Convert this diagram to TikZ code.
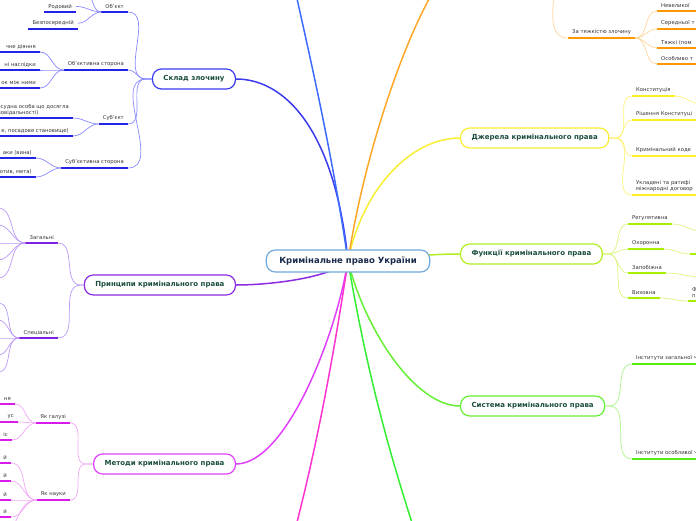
\documentclass[tikz,border=0pt]{standalone}
\usepackage{fontspec}
\setsansfont{DejaVu Sans}
\usetikzlibrary{calc,backgrounds}

\definecolor{centxt}{HTML}{1A2B4C}
\definecolor{toptxt}{HTML}{1B4D3E}
\definecolor{lbltxt}{HTML}{333333}
\definecolor{cenline}{HTML}{6FA8DC}
% branch colours: border / sub lines / underlines
\definecolor{bblue}{HTML}{3B3BF0}   \definecolor{lblue}{HTML}{8888FF}   \definecolor{ublue}{HTML}{2323E6}
\definecolor{bpurp}{HTML}{8B2BE2}   \definecolor{lpurp}{HTML}{BB99F5}   \definecolor{upurp}{HTML}{7C22E0}
\definecolor{bmag}{HTML}{E040FB}    \definecolor{lmag}{HTML}{F2A6F8}    \definecolor{umag}{HTML}{D81BE8}
\definecolor{byell}{HTML}{F7EE33}   \definecolor{lyell}{HTML}{FFF27A}   \definecolor{uyell}{HTML}{FFEE22}
\definecolor{blime}{HTML}{B2EE22}   \definecolor{llime}{HTML}{D8F580}   \definecolor{ulime}{HTML}{AAEE00}
\definecolor{bgrn}{HTML}{66F033}    \definecolor{lgrn}{HTML}{A8F58E}    \definecolor{ugrn}{HTML}{55EE11}
\definecolor{borng}{HTML}{FFA726}   \definecolor{lorng}{HTML}{FFD59A}   \definecolor{uorng}{HTML}{FF9800}
\definecolor{topblue}{HTML}{3D6BFF}
\definecolor{botmag}{HTML}{FF33D0}
\definecolor{botgrn}{HTML}{33EE33}

\begin{document}
\begin{tikzpicture}[x=1pt, y=-1pt,
      topic/.style = {draw=#1, line width=1.2pt, fill=white, rounded corners=9pt,
                      minimum height=20pt, inner xsep=11pt, text=toptxt,
                      font=\sffamily\bfseries\fontsize{7}{8}\selectfont},
        lbl/.style = {inner xsep=4pt, inner ysep=3pt, text=lbltxt, align=left,
                      font=\sffamily\fontsize{5.3}{6}\selectfont},
       rcut/.style = {lbl, text width=70pt},
         ul/.style = {draw=#1, line width=1.6pt},
        sub/.style = {draw=#1, line width=0.7pt},
       main/.style = {draw=#1, line width=1.5pt}
                    ]
    \useasboundingbox (0,0) rectangle (696,520);

    % centre and main topics
    \node[topic=cenline, text=centxt, minimum height=22pt, inner xsep=13pt,
          font=\sffamily\bfseries\fontsize{8.5}{10}\selectfont] (cen) at (348,261) {Кримінальне право України};

    \node[topic=bblue, anchor=east] (sklad) at (236,79)  {Склад злочину};
    \node[topic=bpurp, anchor=east] (pryn)  at (236,285) {Принципи кримінального права};
    \node[topic=bmag,  anchor=east] (metod) at (236,464) {Методи кримінального права};
    \node[topic=byell, anchor=west] (dzher) at (460,138) {Джерела кримінального права};
    \node[topic=blime, anchor=west] (funk)  at (460,254) {Функції кримінального права};
    \node[topic=bgrn,  anchor=west] (syst)  at (460,406) {Система кримінального права};

    % branches leaving the picture
    \coordinate (topb) at (296,-6);
    \coordinate (topo) at (432,-6);
    \coordinate (botg) at (413,526);
    \coordinate (botm) at (296,526);

    % Склад злочину
    \node[lbl, anchor=south east] (obj)    at (128,12)  {Об'єкт};
    \node[lbl, anchor=south east] (rod)    at (76,12)   {Родовий};
    \node[lbl, anchor=south east] (bezp)   at (78,29)   {Безпосередній};
    \coordinate (objtop) at (84,-8);
    \node[lbl, anchor=south east] (obst)   at (128,70)  {Об'єктивна сторона};
    \node[lbl, anchor=south east] (diyan)  at (40,52)   {чне діяння};
    \node[lbl, anchor=south east] (naslid) at (40,70)   {ні наслідки};
    \node[lbl, anchor=south east] (zvyaz)  at (40,88)   {ок між ними};
    \node[lbl, anchor=south east] (subj)   at (128,124) {Суб'єкт};
    \node[lbl, anchor=south east] (zagsub) at (73,118)  {осудна особа що досягла\\повідальності)};
    \node[lbl, anchor=south east] (spsub)  at (73,136)  {е, посадове становище)};
    \node[lbl, anchor=south east] (subst)  at (128,168) {Суб'єктивна сторона};
    \node[lbl, anchor=south east] (oblig)  at (36,158)  {аки (вина)};
    \node[lbl, anchor=south east] (fakult) at (36,177)  {отив, мета)};

    % Принципи
    \node[lbl, anchor=south east] (zagpr) at (58,243) {Загальні};
    \node[lbl, anchor=south east] (sppr)  at (58,338) {Спеціальні};
    \foreach \i/\y in {1/208,2/225,3/243,4/260,5/278} \coordinate (zp\i) at (-2,\y);
    \foreach \i/\y in {1/303,2/320,3/338,4/355,5/372} \coordinate (sp\i) at (-2,\y);

    % Методи
    \node[lbl, anchor=south east] (galuz) at (70,423) {Як галузі};
    \node[lbl, anchor=south east] (mg1)   at (15,404) {ня};
    \node[lbl, anchor=south east] (mg2)   at (18,422) {ус};
    \node[lbl, anchor=south east] (mg3)   at (12,440) {іс};
    \node[lbl, anchor=south east] (nauk)  at (70,500) {Як науки};
    \node[lbl, anchor=south east] (mn1)   at (11,463) {й};
    \node[lbl, anchor=south east] (mn2)   at (11,481) {й};
    \node[lbl, anchor=south east] (mn3)   at (11,500) {й};
    \node[lbl, anchor=south east] (mn4)   at (11,517) {й};
    \coordinate (mn5) at (-2,536);

    % За тяжкістю
    \coordinate (tyazhin) at (540,-50);
    \node[lbl,  anchor=south west] (tyazh)  at (568,38) {За тяжкістю злочину};
    \node[rcut, anchor=south west] (nevel)  at (657,11) {Невеликої};
    \node[rcut, anchor=south west] (sered)  at (657,29) {Середньої т};
    \node[rcut, anchor=south west] (tyazhk) at (657,48) {Тяжкі (пом};
    \node[rcut, anchor=south west] (osobl)  at (657,64) {Особливо т};

    % Джерела
    \node[lbl,  anchor=south west] (konst)  at (632,96)  {Конституція};
    \coordinate (konstc) at (702,104);
    \node[rcut, anchor=south west] (rishen) at (632,120) {Рішення Конституці};
    \node[rcut, anchor=south west] (kodeks) at (632,156) {Кримінальний коде};
    \node[rcut, anchor=south west] (dogov)  at (632,195) {Укладені та ратифі\\міжнародні договор};

    % Функції
    \node[lbl, anchor=south west] (regul) at (628,224) {Регулятивна};
    \node[lbl, anchor=south west] (okhor) at (628,249) {Охоронна};
    \node[lbl, anchor=south west] (zapob) at (628,273) {Запобіжна};
    \node[lbl, anchor=south west] (vykh)  at (628,298) {Виховна};
    \coordinate (regulc) at (702,231);
    \coordinate (okhorc) at (690,254);
    \coordinate (zapobc) at (702,277);
    \node[rcut, anchor=south west] (vykhf) at (688,301) {Ф\\п};

    % Система
    \node[rcut, anchor=south west] (inszag)  at (632,364) {Інститути загальної ч};
    \node[rcut, anchor=south west] (insosob) at (632,459) {Інститути особливої ч};

    % underlines
    \foreach \n in {obj,rod,bezp,obst,subj,subst} \draw[ul=ublue] (\n.south west) -- (\n.south east);
    \foreach \n in {diyan,naslid,zvyaz,zagsub,spsub,oblig,fakult} \draw[ul=ublue] (\n.south east) -- ++(-80,0);
    \foreach \n in {zagpr,sppr} \draw[ul=upurp] (\n.south west) -- (\n.south east);
    \foreach \n in {galuz,nauk} \draw[ul=umag] (\n.south west) -- (\n.south east);
    \foreach \n in {mg1,mg2,mg3,mn1,mn2,mn3,mn4} \draw[ul=umag] (\n.south east) -- ++(-80,0);
    \draw[ul=uorng] (tyazh.south west) -- (tyazh.south east);
    \foreach \n in {nevel,sered,tyazhk,osobl} \draw[ul=uorng] (\n.south west) -- (\n.south east);
    \draw[ul=uyell] (konst.south west) -- (konst.south east);
    \foreach \n in {rishen,kodeks,dogov} \draw[ul=uyell] (\n.south west) -- (\n.south east);
    \foreach \n in {regul,okhor,zapob,vykh,vykhf} \draw[ul=ulime] (\n.south west) -- (\n.south east);
    \draw[ul=ulime] (okhorc) -- ++(12,0);
    \foreach \n in {inszag,insosob} \draw[ul=ugrn] (\n.south west) -- (\n.south east);

    % sub connectors
    \foreach \n in {obj,obst,subj,subst} \draw[sub=lblue] (sklad.west) -- ++(-6,0) to[out=180,in=0] (\n.south east);
    \foreach \n in {rod,bezp,objtop} \draw[sub=lblue] (obj.south west) to[out=180,in=0] (\n);
    \foreach \n in {diyan,naslid,zvyaz} \draw[sub=lblue] (obst.south west) to[out=180,in=0] (\n.south east);
    \foreach \n in {zagsub,spsub} \draw[sub=lblue] (subj.south west) to[out=180,in=0] (\n.south east);
    \foreach \n in {oblig,fakult} \draw[sub=lblue] (subst.south west) to[out=180,in=0] (\n.south east);

    \foreach \n in {zagpr,sppr} \draw[sub=lpurp] (pryn.west) -- ++(-3,0) to[out=180,in=0] (\n.south east);
    \foreach \i in {1,...,5} {
        \draw[sub=lpurp] (zagpr.south west) to[out=180,in=0] (zp\i);
        \draw[sub=lpurp] (sppr.south west) to[out=180,in=0] (sp\i);
    }

    \foreach \n in {galuz,nauk} \draw[sub=lmag] (metod.west) -- ++(-7,0) to[out=180,in=0] (\n.south east);
    \foreach \n in {mg1,mg2,mg3} \draw[sub=lmag] (galuz.south west) to[out=180,in=0] (\n.south east);
    \foreach \n in {mn1,mn2,mn3,mn4} \draw[sub=lmag] (nauk.south west) to[out=180,in=0] (\n.south east);
    \draw[sub=lmag] (nauk.south west) to[out=180,in=0] (mn5);

    \draw[sub=lorng] (tyazhin) to[out=0,in=180] (tyazh.south west);
    \foreach \n in {nevel,sered,tyazhk,osobl} \draw[sub=lorng] (tyazh.south east) to[out=0,in=180] (\n.south west);

    \foreach \n in {konst,rishen,kodeks,dogov} \draw[sub=lyell] (dzher.east) -- ++(6,0) to[out=0,in=180] (\n.south west);
    \draw[sub=lyell] (konst.south east) to[out=0,in=180] (konstc);

    \foreach \n in {regul,okhor,zapob,vykh} \draw[sub=llime] (funk.east) -- ++(5,0) to[out=0,in=180] (\n.south west);
    \draw[sub=llime] (regul.south east) to[out=0,in=180] (regulc);
    \draw[sub=llime] (okhor.south east) to[out=0,in=180] (okhorc);
    \draw[sub=llime] (zapob.south east) to[out=0,in=180] (zapobc);
    \draw[sub=llime] (vykh.south east) to[out=0,in=180] (vykhf.south west);

    \foreach \n in {inszag,insosob} \draw[sub=lgrn] (syst.east) -- ++(4,0) to[out=0,in=180] (\n.south west);

    % main connectors, behind the nodes
    \begin{pgfonlayer}{background}
    \draw[main=bblue]   (cen.center) .. controls (335,130) and (285,79) .. (sklad.east);
    \draw[main=bpurp]   (cen.center) .. controls (330,278) and (270,285) .. (pryn.east);
    \draw[main=bmag]    (cen.center) .. controls (335,340) and (285,464) .. (metod.east);
    \draw[main=byell]   (cen.center) .. controls (362,190) and (410,138) .. (dzher.west);
    \draw[main=blime]   (cen.center) .. controls (400,258) and (425,254) .. (funk.west);
    \draw[main=bgrn]    (cen.center) .. controls (365,330) and (415,406) .. (syst.west);
    \draw[main=topblue] (cen.center) .. controls (332,150) and (306,40) .. (topb);
    \draw[main=borng]   (cen.center) .. controls (365,150) and (405,40) .. (topo);
    \draw[main=botgrn]  (cen.center) .. controls (368,380) and (392,460) .. (botg);
    \draw[main=botmag]  (cen.center) .. controls (330,380) and (313,460) .. (botm);
    \end{pgfonlayer}
\end{tikzpicture}
\end{document}
